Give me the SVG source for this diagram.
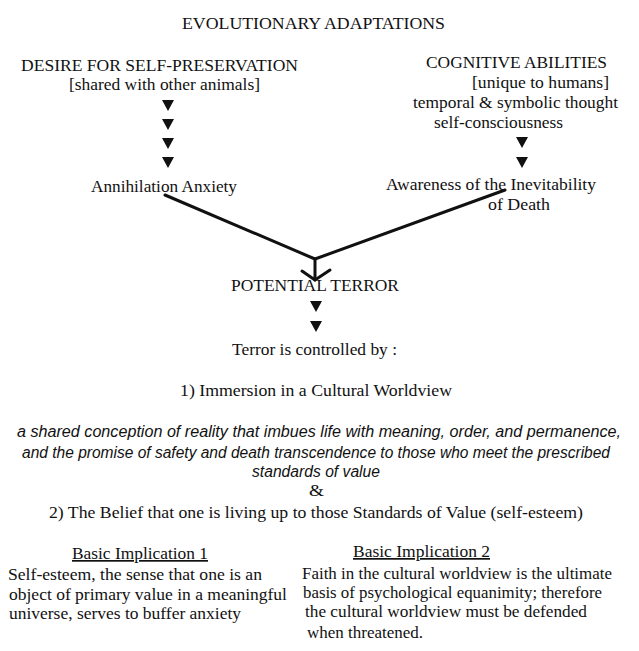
<svg xmlns="http://www.w3.org/2000/svg" xmlns:xlink="http://www.w3.org/1999/xlink" width="639" height="651" viewBox="0 0 639 651">
<style>
text{font-family:"Liberation Serif","Times New Roman",serif;font-size:17px;fill:#111;}
.it{font-family:"Liberation Sans Narrow","Liberation Sans",Arial,sans-serif;font-style:italic;font-size:16px;}
.u{text-decoration:underline;}
.ln{fill:none;stroke:#111;stroke-width:3;stroke-linecap:round;stroke-linejoin:round;}
.tri{fill:#111;}
</style>
<defs>
<path id="tri" class="tri" d="M-6,0 L6,0 L0,11 Z"/>
</defs>
<rect width="639" height="651" fill="#fff"/>

<g id="title">
<text x="182" y="29" textLength="263" lengthAdjust="spacingAndGlyphs">EVOLUTIONARY ADAPTATIONS</text>
</g>

<g id="desire">
<text x="21" y="71" textLength="277" lengthAdjust="spacingAndGlyphs">DESIRE FOR SELF-PRESERVATION</text>
<text x="69" y="90" textLength="191" lengthAdjust="spacingAndGlyphs">[shared with other animals]</text>
</g>

<g id="cognitive">
<text x="426" y="68" textLength="181" lengthAdjust="spacingAndGlyphs">COGNITIVE ABILITIES</text>
<text x="472" y="88" textLength="137" lengthAdjust="spacingAndGlyphs">[unique to humans]</text>
<text x="413" y="108" textLength="205" lengthAdjust="spacingAndGlyphs">temporal &amp; symbolic thought</text>
<text x="434" y="128" textLength="129" lengthAdjust="spacingAndGlyphs">self-consciousness</text>
</g>

<g id="annihilation">
<text x="91" y="192" textLength="146" lengthAdjust="spacingAndGlyphs">Annihilation Anxiety</text>
</g>

<g id="awareness">
<text x="386" y="190" textLength="210" lengthAdjust="spacingAndGlyphs">Awareness of the Inevitability</text>
<text x="488" y="210" textLength="62" lengthAdjust="spacingAndGlyphs">of Death</text>
</g>

<g id="potential-terror">
<text x="231" y="291" textLength="168" lengthAdjust="spacingAndGlyphs">POTENTIAL TERROR</text>
</g>

<g id="controlled">
<text x="232" y="355" textLength="165" lengthAdjust="spacingAndGlyphs">Terror is controlled by :</text>
</g>

<g id="immersion">
<text x="180" y="396" textLength="272" lengthAdjust="spacingAndGlyphs">1)  Immersion in a Cultural Worldview</text>
<text class="it" x="17" y="437" textLength="604" lengthAdjust="spacingAndGlyphs">a shared conception of reality that imbues life with meaning, order, and permanence,</text>
<text class="it" x="22" y="458" textLength="588" lengthAdjust="spacingAndGlyphs">and the promise of safety and death transcendence to those who meet the prescribed</text>
<text class="it" x="252" y="477" textLength="128" lengthAdjust="spacingAndGlyphs">standards of value</text>
</g>

<g id="and">
<text x="309" y="496" textLength="15" lengthAdjust="spacingAndGlyphs">&amp;</text>
</g>

<g id="belief">
<text x="49" y="518" textLength="534" lengthAdjust="spacingAndGlyphs">2)  The Belief that one is living up to those Standards of Value (self-esteem)</text>
</g>

<g id="implication-1">
<text class="u" x="72" y="559" textLength="136" lengthAdjust="spacingAndGlyphs">Basic Implication 1</text>
<text x="8" y="580" textLength="254" lengthAdjust="spacingAndGlyphs">Self-esteem, the sense that one is an</text>
<text x="9" y="600" textLength="278" lengthAdjust="spacingAndGlyphs">object of primary value in a meaningful</text>
<text x="9" y="619" textLength="232" lengthAdjust="spacingAndGlyphs">universe, serves to buffer anxiety</text>
</g>

<g id="implication-2">
<text class="u" x="353" y="557" textLength="137" lengthAdjust="spacingAndGlyphs">Basic Implication 2</text>
<text x="302" y="579" textLength="310" lengthAdjust="spacingAndGlyphs">Faith in the cultural worldview is the ultimate</text>
<text x="303" y="598" textLength="299" lengthAdjust="spacingAndGlyphs">basis of psychological equanimity; therefore</text>
<text x="305" y="617" textLength="282" lengthAdjust="spacingAndGlyphs">the cultural worldview must be defended</text>
<text x="307" y="638" textLength="116" lengthAdjust="spacingAndGlyphs">when threatened.</text>
</g>

<g id="connectors">
<use xlink:href="#tri" x="168" y="100"/>
<use xlink:href="#tri" x="168" y="119"/>
<use xlink:href="#tri" x="168" y="138"/>
<use xlink:href="#tri" x="168" y="157"/>
<use xlink:href="#tri" x="522" y="137"/>
<use xlink:href="#tri" x="522" y="157"/>
<use xlink:href="#tri" x="316" y="301"/>
<use xlink:href="#tri" x="316" y="321"/>
<polyline class="ln" points="165,195 315,259 505,190"/>
<line class="ln" x1="315" y1="259" x2="315" y2="280"/>
<polyline class="ln" points="302,271 315,280 330,270"/>
</g>
</svg>
